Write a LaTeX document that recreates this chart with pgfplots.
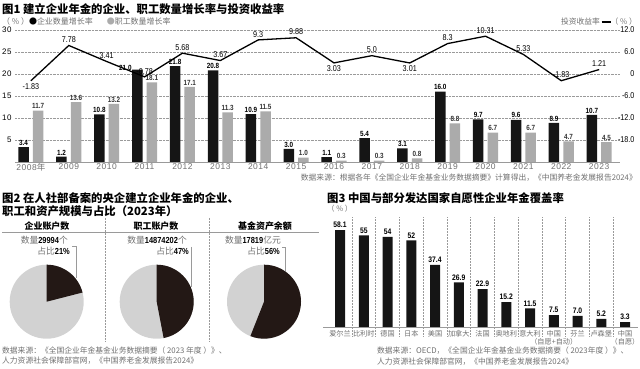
\documentclass[border=0pt]{standalone}
\usepackage{fontspec}
\setmainfont{Noto Sans CJK SC}
\newfontfamily\numfont[FakeStretch=0.85]{Liberation Sans}
\newfontfamily\tickfont[LetterSpace=6]{Liberation Sans}
\usepackage{pgfplots}
\pgfplotsset{compat=1.18}
\definecolor{barblack}{HTML}{151515}
\definecolor{bargray}{HTML}{ABABAB}
\definecolor{pieblack}{HTML}{231815}
\definecolor{piegray}{HTML}{D2D2D2}
\definecolor{txtgray}{HTML}{707070}
\definecolor{gridgray}{HTML}{9A9A9A}
\begin{document}
\begin{tikzpicture}[x=1bp,y=1bp]
\path[use as bounding box] (0bp,0bp) rectangle (640bp,369bp);

% ---------- Chart 1 texts ----------
\node[anchor=west, inner sep=0, font=\fontsize{11.4}{12}\selectfont\bfseries] at (2bp,360bp) {图1 建立企业年金的企业、职工数量增长率与投资收益率};
\node[anchor=west, inner sep=0, font=\fontsize{8}{9}\selectfont, text=txtgray] at (2bp,347.5bp) {（ \% ）{\color{black}●}企业数量增长率\hspace{14bp}{\color{bargray}●}职工数量增长率};
\node[anchor=east, inner sep=0, font=\fontsize{7.8}{8}\selectfont, text=txtgray] at (637bp,347.5bp) {投资收益率 {\color{black}\rule[0.25em]{9bp}{1.3bp}}（ \% ）};
\node[anchor=east, inner sep=0, font=\fontsize{7.8}{8}\selectfont, text=txtgray] at (637bp,191bp) {数据来源：根据各年《全国企业年金基金业务数据摘要》计算得出，《中国养老金发展报告2024》};

% ---------- Chart 1 bars (left axis) ----------
\begin{axis}[
  at={(15bp,207bp)}, anchor=south west,
  scale only axis, width=605bp, height=132bp,
  xmin=-0.42, xmax=15.55, ymin=0, ymax=30,
  ybar, bar width=10.5bp,
  axis line style={draw=none},
  major tick length=0,
  xtick={0,...,15},
  xticklabels={2008{\normalfont 年},2009,2010,2011,2012,2013,2014,2015,2016,2017,2018,2019,2020,2021,2022,2023},
  xticklabel style={font=\tickfont\fontsize{8.5}{9}\selectfont, text=txtgray, yshift=2bp},
  ytick={5,10,...,30},
  yticklabel style={font=\tickfont\fontsize{8}{9}\selectfont},
  ymajorgrids, grid style={densely dotted, gridgray, line width=0.5bp},
  extra y ticks={0}, extra y tick labels={},
  extra y tick style={grid style={solid, gridgray, line width=0.6bp}},
  nodes near coords style={font=\numfont\bfseries\fontsize{7.5}{8}\selectfont, inner sep=1.5bp},
  /pgf/number format/assume math mode=true,
  clip=false,
]
\addplot[fill=barblack, draw=none, bar shift=-7.3bp] coordinates {
(0,3.4) (1,1.2) (2,10.8) (3,21.0) (4,21.8) (5,20.8) (6,10.9) (7,3.0)
(8,1.1) (9,5.4) (10,3.1) (11,16.0) (12,9.7) (13,9.6) (14,8.9) (15,10.7)};
\addplot[fill=bargray, draw=none, bar shift=7.3bp, nodes near coords={\pgfmathprintnumber[fixed,fixed zerofill,precision=1]{\pgfplotspointmeta}}, nodes near coords style={text=black!80}] coordinates {
(0,11.7) (1,13.6) (2,13.2) (3,18.1) (4,17.1) (5,11.3) (6,11.5) (7,1.0)
(8,0.3) (9,0.3) (10,0.8) (11,8.8) (12,6.7) (13,6.7) (14,4.7) (15,4.5)};
% labels of the black bars
\addplot[draw=none, fill=none, bar shift=-7.3bp, nodes near coords, point meta=explicit symbolic] coordinates {
(0,3.4)[3.4] (1,1.2)[1.2] (2,10.8)[10.8] (4,21.8)[21.8] (5,20.8)[20.8] (6,10.9)[10.9] (7,3.0)[3.0]
(8,1.1)[1.1] (9,5.4)[5.4] (10,3.1)[3.1] (11,16.0)[16.0] (12,9.7)[9.7] (13,9.6)[9.6] (14,8.9)[8.9] (15,10.7)[10.7]};
\addplot[draw=none, fill=none, bar shift=-7.3bp, nodes near coords, point meta=explicit symbolic,
  nodes near coords style={anchor=south east, xshift=-4bp, yshift=-3bp}] coordinates {(3,21.0)[21.0]};
\end{axis}

% ---------- Chart 1 line (right axis) ----------
\begin{axis}[
  at={(15bp,207bp)}, anchor=south west,
  scale only axis, width=605bp, height=132bp,
  xmin=-0.42, xmax=15.55, ymin=-24, ymax=12,
  axis line style={draw=none},
  major tick length=0,
  xtick=\empty,
  ytick={-18,-12,-6,0,6,12},
  yticklabels={-18.0,-12.0,-6.0,0,6.0,12.0},
  yticklabel pos=right,
  yticklabel style={anchor=east, xshift=18bp, font=\numfont\fontsize{8.5}{9}\selectfont},
  clip=false,
]
\addplot[black, line width=1.3bp, mark=none] coordinates {
(0,-1.83) (1,7.78) (2,3.41) (3,-0.78) (4,5.68) (5,3.67) (6,9.3) (7,9.88)
(8,3.03) (9,5.0) (10,3.01) (11,8.3) (12,10.31) (13,5.33) (14,-1.83) (15,1.21)};
\addplot[draw=none, mark=none, nodes near coords, point meta=explicit symbolic,
  nodes near coords style={anchor=south, inner sep=2.5bp, font=\numfont\fontsize{8.5}{9}\selectfont}] coordinates {
(1,7.78)[7.78] (2,3.41)[3.41] (3,-0.78)[-0.78] (4,5.68)[5.68] (5,3.67)[3.67] (6,9.3)[9.3] (7,9.88)[9.88]
(9,5.0)[5.0] (11,8.3)[8.3] (12,10.31)[10.31] (13,5.33)[5.33] (14,-1.83)[-1.83] (15,1.21)[1.21]};
\addplot[draw=none, mark=none, nodes near coords, point meta=explicit symbolic,
  nodes near coords style={anchor=north, inner sep=2.5bp, font=\numfont\fontsize{8.5}{9}\selectfont}] coordinates {
(0,-1.83)[-1.83] (8,3.03)[3.03] (10,3.01)[3.01]};
\end{axis}

% ---------- Chart 2 ----------
\node[anchor=west, inner sep=0, font=\fontsize{11.4}{12}\selectfont\bfseries] at (2bp,171bp) {图2 在人社部备案的央企建立企业年金的企业、};
\node[anchor=west, inner sep=0, font=\fontsize{11.4}{12}\selectfont\bfseries] at (2bp,158bp) {职工和资产规模与占比（2023年）};
\node[inner sep=0, font=\fontsize{9}{10}\selectfont\bfseries] at (47bp,142.5bp) {企业账户数};
\node[inner sep=0, font=\fontsize{9}{10}\selectfont\bfseries] at (156bp,142.5bp) {职工账户数};
\node[inner sep=0, font=\fontsize{9}{10}\selectfont\bfseries] at (265bp,142.5bp) {基金资产余额};
\draw[gridgray, line width=0.5bp] (2bp,136.5bp) -- (319bp,136.5bp);
\draw[densely dotted, gridgray, line width=0.5bp] (105bp,151bp) -- (105bp,27bp);
\draw[densely dotted, gridgray, line width=0.5bp] (209bp,151bp) -- (209bp,27bp);

\node[anchor=east, inner sep=0, font=\fontsize{8.8}{9}\selectfont, text=txtgray] at (68bp,129bp) {数量{\color{black}\numfont\bfseries 29994}个};
\node[anchor=east, inner sep=0, font=\fontsize{8.8}{9}\selectfont, text=txtgray] at (70bp,118bp) {占比{\color{black}\numfont\bfseries 21\%}};
\draw[gridgray, line width=0.5bp] (72bp,123bp) -- (76bp,123bp) -- (76bp,91bp);
\node[anchor=east, inner sep=0, font=\fontsize{8.8}{9}\selectfont, text=txtgray] at (187bp,129bp) {数量{\color{black}\numfont\bfseries 14874202}个};
\node[anchor=east, inner sep=0, font=\fontsize{8.8}{9}\selectfont, text=txtgray] at (189bp,118bp) {占比{\color{black}\numfont\bfseries 47\%}};
\draw[gridgray, line width=0.5bp] (191bp,122bp) -- (191bp,82bp);
\node[anchor=east, inner sep=0, font=\fontsize{8.8}{9}\selectfont, text=txtgray] at (281bp,129bp) {数量{\color{black}\numfont\bfseries 17819}亿元};
\node[anchor=east, inner sep=0, font=\fontsize{8.8}{9}\selectfont, text=txtgray] at (280bp,118bp) {占比{\color{black}\numfont\bfseries 56\%}};
\draw[gridgray, line width=0.5bp] (282bp,122bp) -- (285bp,122bp) -- (285bp,97bp);

\begin{axis}[at={(46.7bp,67.3bp)}, anchor=center, scale only axis, width=74bp, height=74bp,
  xmin=-1, xmax=1, ymin=-1, ymax=1, hide axis, clip=false]
\addplot[draw=none] coordinates {(0,0)};
\fill[piegray] (axis cs:0,0) circle[radius=37bp];
\fill[pieblack] (axis cs:0,0) -- (axis cs:0,1) arc[start angle=90, end angle={90-3.6*21}, radius=37bp] -- cycle;
\end{axis}
\begin{axis}[at={(156.7bp,67.3bp)}, anchor=center, scale only axis, width=74bp, height=74bp,
  xmin=-1, xmax=1, ymin=-1, ymax=1, hide axis, clip=false]
\addplot[draw=none] coordinates {(0,0)};
\fill[piegray] (axis cs:0,0) circle[radius=37bp];
\fill[pieblack] (axis cs:0,0) -- (axis cs:0,1) arc[start angle=90, end angle={90-3.6*47}, radius=37bp] -- cycle;
\end{axis}
\begin{axis}[at={(264bp,67.3bp)}, anchor=center, scale only axis, width=74bp, height=74bp,
  xmin=-1, xmax=1, ymin=-1, ymax=1, hide axis, clip=false]
\addplot[draw=none] coordinates {(0,0)};
\fill[piegray] (axis cs:0,0) circle[radius=37bp];
\fill[pieblack] (axis cs:0,0) -- (axis cs:0,1) arc[start angle=90, end angle={90-3.6*56}, radius=37bp] -- cycle;
\end{axis}

\node[anchor=west, inner sep=0, font=\fontsize{7.8}{8}\selectfont, text=txtgray] at (2bp,18.5bp) {数据来源：《全国企业年金基金业务数据摘要（ 2023 年度 ）》、};
\node[anchor=west, inner sep=0, font=\fontsize{7.8}{8}\selectfont, text=txtgray] at (2bp,8bp) {人力资源社会保障部官网，《中国养老金发展报告2024》};

% ---------- Chart 3 ----------
\node[anchor=west, inner sep=0, font=\fontsize{11.4}{12}\selectfont\bfseries] at (327bp,171bp) {图3 中国与部分发达国家自愿性企业年金覆盖率};
\node[anchor=west, inner sep=0, font=\fontsize{7.5}{8}\selectfont, text=txtgray] at (327bp,160bp) {（ \% ）};

\begin{axis}[
  at={(323.4bp,41.3bp)}, anchor=south west,
  scale only axis, width=314.7bp, height=110.9bp,
  xmin=-0.7, xmax=12.55, ymin=0, ymax=66,
  ybar, bar width=10bp, bar shift=0pt,
  axis line style={draw=none},
  major tick length=0,
  xtick={0,...,12},
  xticklabels={爱尔兰,比利时,德国,日本,美国,加拿大,法国,奥地利,意大利,{中国\\（自愿+自动）},芬兰,卢森堡,{中国\\（自愿）}},
  xticklabel style={align=center, font=\fontsize{7.2}{8.2}\selectfont, text=txtgray, anchor=north, yshift=1bp, inner xsep=0pt},
  ytick=\empty,
  nodes near coords, point meta=explicit symbolic,
  nodes near coords style={font=\numfont\bfseries\fontsize{8}{9}\selectfont, inner sep=2bp},
  clip=false,
]
\addplot[fill=barblack, draw=none] coordinates {
(0,58.1)[58.1] (1,55)[55] (2,54)[54] (3,52)[52] (4,37.4)[37.4] (5,26.9)[26.9] (6,22.9)[22.9]
(7,15.2)[15.2] (8,11.5)[11.5] (9,7.5)[7.5] (10,7.0)[7.0] (11,5.2)[5.2] (12,3.3)[3.3]};
\pgfplotsinvokeforeach{0.5,1.5,...,11.5}{\draw[densely dotted, gridgray, line width=0.5bp] (axis cs:#1,-5) -- (axis cs:#1,66);}
\draw[gridgray, line width=0.6bp] (axis cs:-0.7,0) -- (axis cs:12.55,0);
\end{axis}

\node[anchor=west, inner sep=0, font=\fontsize{7.8}{8}\selectfont, text=txtgray] at (377bp,18bp) {数据来源：OECD，《全国企业年金基金业务数据摘要（ 2023年度 ）》、};
\node[anchor=west, inner sep=0, font=\fontsize{7.8}{8}\selectfont, text=txtgray] at (377bp,7.5bp) {人力资源社会保障部官网，《中国养老金发展报告2024》};
\end{tikzpicture}
\end{document}
